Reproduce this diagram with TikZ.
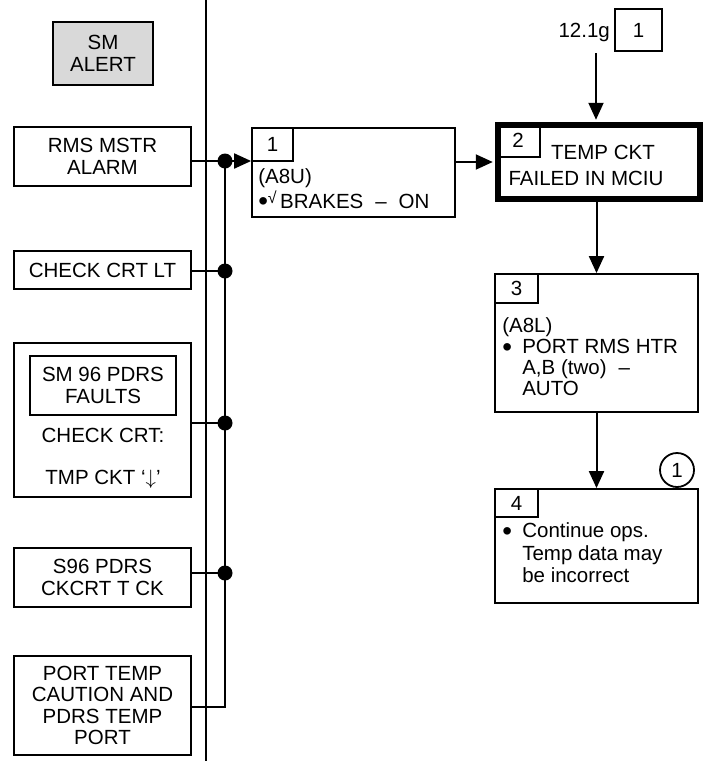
\documentclass[tikz,border=0pt]{standalone}
\usepackage{fontspec}
\setmainfont{Liberation Sans}
\usetikzlibrary{arrows.meta}

\tikzset{
  stepbox/.style={draw, line width=1.8pt, inner sep=0pt, align=center},
  tabbox/.style={draw, line width=1.8pt, inner sep=0pt, anchor=north west},
  stepnote/.style={anchor=north west, align=left, inner sep=0pt},
  jdot/.style={circle, fill, inner sep=0pt, minimum size=15pt},
  wire/.style={line width=2pt},
  flow/.style={line width=2pt, -{Triangle[length=17pt,width=15pt]}},
}
\newcommand{\stepbullet}{\raisebox{-2.6pt}{\scalebox{1.35}{•}}}

\begin{document}
\begin{tikzpicture}[x=1pt, y=-1pt, font=\fontsize{20.5}{21.5}\selectfont]
        \useasboundingbox (0,0) rectangle (705,761);

        % Separator
        \coordinate (septop) at (206,0);
        \coordinate (sepbot) at (206,761);
        \draw[wire] (septop) -- (sepbot);

        % Left cues
        \node[stepbox, fill=black!15, minimum width=100pt, minimum height=63pt] (smalert) at (103,53.5) {SM\\ALERT};
        \node[stepbox, minimum width=177pt, minimum height=59pt] (rms) at (102.5,156.5) {RMS MSTR\\ALARM};
        \node[stepbox, minimum width=177pt, minimum height=38pt] (chkcrt) at (102.5,270) {CHECK CRT LT};
        \node[stepbox, minimum width=177pt, minimum height=154pt] (sm96) at (102.5,420) {};
        \node[stepbox, minimum width=146pt, minimum height=59pt] (sm96flt) at (103,385.5) {SM 96 PDRS\\FAULTS};
        \node (sm96crt) at (103,435) {CHECK CRT:};
        \node (sm96tmp) at (103,479) {TMP CKT ‘$\downarrow$’};
        \node[stepbox, minimum width=177pt, minimum height=59pt] (s96) at (102.5,577.5) {S96 PDRS\\CKCRT T CK};
        \node[stepbox, minimum width=177pt, minimum height=99pt] (portcau) at (102.5,705.5) {PORT TEMP\\CAUTION AND\\PDRS TEMP\\PORT};

        % Bus
        \node[jdot] (j1) at (225,161) {};
        \node[jdot] (j2) at (225,271) {};
        \node[jdot] (j3) at (225,423) {};
        \node[jdot] (j4) at (225,573) {};
        \coordinate (busbot) at (225,707);
        \draw[wire] (rms.east |- j1) -- (j1.center);
        \draw[wire] (chkcrt.east |- j2) -- (j2.center);
        \draw[wire] (sm96.east |- j3) -- (j3.center);
        \draw[wire] (s96.east |- j4) -- (j4.center);
        \draw[wire] (j1.center) -- (busbot) -- (portcau.east |- busbot);

        % Step 1
        \node[stepbox, minimum width=203pt, minimum height=89pt] (blk1) at (353.5,172.5) {};
        \node[tabbox, minimum width=41pt, minimum height=33pt] (tab1) at (blk1.north west) {1};
        \node[stepnote] (blk1txt) at ([shift={(7pt,-7pt)}]tab1.south west)
            {(A8U)\\[1.5pt]\stepbullet\raisebox{5pt}{\fontsize{16}{16}\selectfont √}\,BRAKES\hspace{12pt}–\hspace{12pt}ON};
        \draw[flow] (j1.center) -- (blk1.west |- j1);

        % Reference
        \node[stepbox, minimum width=47pt, minimum height=42pt] (ref) at (638.5,30) {1};
        \node[anchor=base east, inner sep=0pt] (reflbl) at (610,37) {12.1g};
        \coordinate (reftail) at (596,53);

        % Step 2
        \node[stepbox, line width=5.5pt, minimum width=202pt, minimum height=74pt] (blk2) at (599,162) {};
        \node[tabbox, minimum width=44pt, minimum height=34pt] (tab2) at (blk2.north west) {2};
        \node (blk2top) at (603,152) {TEMP CKT};
        \node (blk2bot) at (586,178) {FAILED IN MCIU};
        \draw[flow, shorten >=2.5pt] (reftail) -- (blk2.north -| reftail);
        \draw[flow, shorten >=2.5pt] (blk1.east |- blk2.west) -- (blk2.west);

        % Step 3
        \node[stepbox, minimum width=203pt, minimum height=138pt] (blk3) at (596.5,343) {};
        \node[tabbox, minimum width=43pt, minimum height=29pt] (tab3) at (blk3.north west) {3};
        \node[stepnote, font=\fontsize{20.5}{21}\selectfont] (blk3txt) at ([shift={(8pt,-14pt)}]tab3.south west)
            {(A8L)\\\makebox[20pt][l]{\stepbullet}PORT RMS HTR\\\hspace*{20pt}A,B (two)\hspace{12pt}–\\\hspace*{20pt}AUTO};
        \draw[flow] (blk3.north |- blk2.south) -- (blk3.north);

        % Step 4
        \node[stepbox, minimum width=203pt, minimum height=114pt] (blk4) at (596.5,546) {};
        \node[tabbox, minimum width=43pt, minimum height=28pt] (tab4) at (blk4.north west) {4};
        \node[stepnote, font=\fontsize{20.5}{22.5}\selectfont] (blk4txt) at ([shift={(8pt,-5pt)}]tab4.south west)
            {\makebox[20pt][l]{\stepbullet}Continue ops.\\\hspace*{20pt}Temp data may\\\hspace*{20pt}be incorrect};
        \node[draw, circle, line width=1.8pt, minimum size=34pt, inner sep=0pt] (note1) at (677,470) {1};
        \draw[flow] (blk3.south) -- (blk4.north);

    \end{tikzpicture}
\end{document}
